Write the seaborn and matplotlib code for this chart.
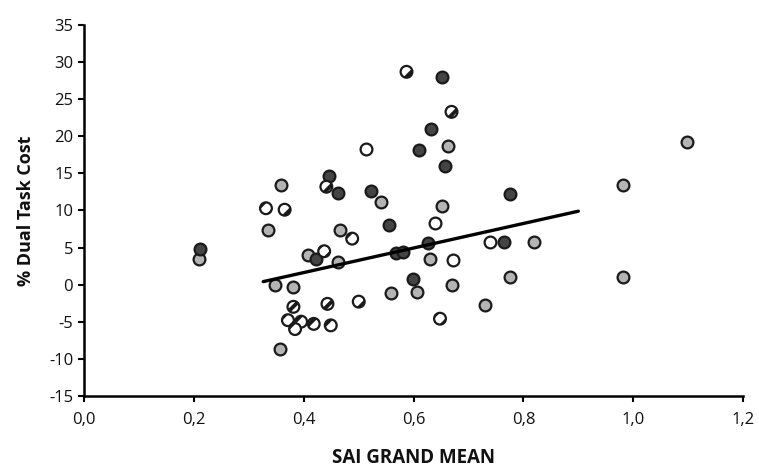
import matplotlib
matplotlib.use("Agg")
import matplotlib.pyplot as plt
from matplotlib.ticker import FuncFormatter
import seaborn as sns
import pandas as pd

# ---- data ----
dark_x = [0.651, 0.632, 0.610, 0.657, 0.445, 0.463, 0.522, 0.556, 0.626, 0.210, 0.423, 0.568, 0.581, 0.599, 0.776, 0.765]
dark_y = [28.0, 21.0, 18.1, 16.0, 14.7, 12.4, 12.6, 8.1, 5.6, 4.8, 3.5, 4.3, 4.4, 0.7, 12.2, 5.7]

light_x = [0.663, 0.359, 0.540, 0.651, 0.334, 0.466, 0.209, 0.407, 0.463, 0.629, 0.347, 0.381,
           0.607, 0.559, 0.669, 0.356, 0.730, 1.098, 0.982, 0.819, 0.776, 0.982]
light_y = [18.7, 13.5, 11.2, 10.6, 7.4, 7.4, 3.5, 4.0, 3.0, 3.5, -0.1, -0.3,
           -1.0, -1.2, -0.1, -8.7, -2.8, 19.2, 13.5, 5.8, 1.0, 1.0]

white_x = [0.513, 0.638, 0.672, 0.739]
white_y = [18.3, 8.3, 3.3, 5.8]

hatch_x = [0.587, 0.669, 0.441, 0.331, 0.365, 0.488, 0.437, 0.381, 0.443, 0.500,
           0.371, 0.395, 0.384, 0.418, 0.449, 0.648]
hatch_y = [28.7, 23.3, 13.2, 10.3, 10.1, 6.2, 4.5, -3.0, -2.6, -2.3,
           -4.8, -5.0, -6.0, -5.3, -5.5, -4.6]

trend_x = [0.326, 0.900]
trend_y = [0.4, 9.9]

x_ticks = [0.0, 0.2, 0.4, 0.6, 0.8, 1.0, 1.2]
y_ticks = [-15, -10, -5, 0, 5, 10, 15, 20, 25, 30, 35]

sns.set_style("white")
plt.rcParams['font.family'] = ['Open Sans', 'DejaVu Sans']
plt.rcParams['axes.unicode_minus'] = False
plt.rcParams['hatch.linewidth'] = 2.8
plt.rcParams['hatch.color'] = 'black'

fig = plt.figure(figsize=(7.59, 4.74), dpi=100)
ax = fig.add_axes([0.111, 0.165, 0.868, 0.782])

common = dict(s=72, edgecolor='#1a1a1a', linewidth=1.6, ax=ax, legend=False, zorder=3)

df_l = pd.DataFrame({'x': light_x, 'y': light_y})
df_w = pd.DataFrame({'x': white_x, 'y': white_y})
df_d = pd.DataFrame({'x': dark_x, 'y': dark_y})
df_h = pd.DataFrame({'x': hatch_x, 'y': hatch_y})

sns.scatterplot(data=df_l, x='x', y='y', color='#b4b4b4', **common)
sns.scatterplot(data=df_w, x='x', y='y', color='white', **common)
sns.scatterplot(data=df_d, x='x', y='y', color='#444444', **common)
sns.scatterplot(data=df_h, x='x', y='y', color='white', hatch='//', **common)

df_t = pd.DataFrame({'x': trend_x, 'y': trend_y})
sns.lineplot(data=df_t, x='x', y='y', color='black', linewidth=2.4, ax=ax, zorder=4)

ax.set_xlim(0, 1.2)
ax.set_ylim(-15, 35)
ax.set_xticks(x_ticks)
ax.set_yticks(y_ticks)
ax.xaxis.set_major_formatter(FuncFormatter(lambda v, p: f"{v:.1f}".replace('.', ',')))
ax.yaxis.set_major_formatter(FuncFormatter(lambda v, p: f"{int(v)}"))
ax.tick_params(axis='both', direction='out', length=4, width=1.5, color='black',
               labelsize=12, labelcolor='#111111', pad=4)
ax.tick_params(axis='x', pad=8)
ax.tick_params(bottom=True, left=True)

for side in ['top', 'right']:
    ax.spines[side].set_visible(False)
for side in ['left', 'bottom']:
    ax.spines[side].set_color('black')
    ax.spines[side].set_linewidth(1.8)

ax.set_xlabel('SAI GRAND MEAN', fontsize=13.5, fontweight='bold', labelpad=14, color='#111111')
ax.set_ylabel('% Dual Task Cost', fontsize=13, fontweight='bold', labelpad=10, color='#111111')

fig.savefig('out.png', dpi=100)
